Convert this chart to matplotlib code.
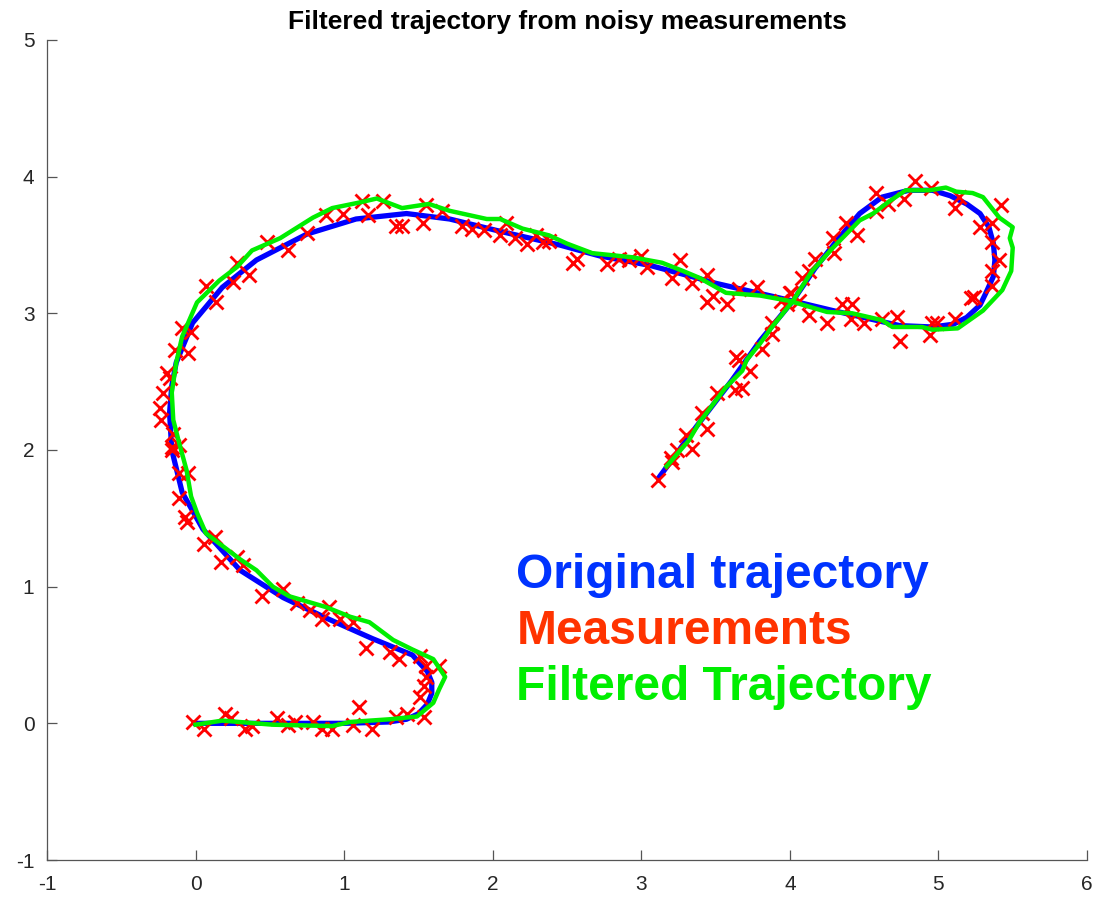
import numpy as np
import matplotlib
matplotlib.use("Agg")
import matplotlib.pyplot as plt

plt.rcParams['font.family'] = ['Liberation Sans', 'DejaVu Sans']
plt.rcParams['axes.unicode_minus'] = False

# Original (true) trajectory
orig_x = [0.0, 0.5, 1.0, 1.3, 1.42, 1.50, 1.56, 1.59, 1.59, 1.56, 1.50, 1.46, 1.19, 0.88, 0.59,
          0.30, 0.05, -0.09, -0.16, -0.175, -0.16, -0.13, -0.02, 0.18, 0.41, 0.75, 1.08, 1.42,
          1.71, 2.05, 2.45, 2.72, 3.06, 3.37, 3.5, 4.02, 4.29, 4.74, 4.96, 5.10, 5.19, 5.28,
          5.32, 5.37, 5.38, 5.37, 5.34, 5.28, 5.19, 5.08, 4.96, 4.80, 4.62, 4.47, 4.33, 4.17,
          4.02, 3.80, 3.61, 3.37, 3.12]
orig_y = [0.0, 0.0, 0.0, 0.01, 0.03, 0.07, 0.14, 0.22, 0.30, 0.38, 0.45, 0.50, 0.62, 0.77, 0.92,
          1.12, 1.42, 1.69, 2.0, 2.27, 2.47, 2.64, 2.93, 3.19, 3.39, 3.58, 3.69, 3.73,
          3.69, 3.60, 3.50, 3.42, 3.35, 3.26, 3.22, 3.09, 3.02, 2.91, 2.90, 2.92, 2.97, 3.06,
          3.15, 3.27, 3.39, 3.51, 3.63, 3.73, 3.80, 3.86, 3.90, 3.90, 3.85, 3.73, 3.55, 3.33,
          3.09, 2.80, 2.51, 2.17, 1.80]

# Noisy measurements
meas_x = [-0.02, 0.06, 0.20, 0.24, 0.33, 0.38, 0.55, 0.62, 0.67, 0.79, 0.85, 0.92, 1.06, 1.10,
          1.19, 1.35, 1.42, 1.51, 1.54, 1.54, 1.55, 1.55, 1.64, 1.51, 1.37, 1.31, 1.15, 1.06,
          0.97, 0.90, 0.85, 0.77, 0.68, 0.59, 0.45, 0.32, 0.28, 0.17, 0.13, 0.06, -0.06, -0.07,
          -0.11, -0.05, -0.11, -0.16,
          -0.11, -0.16, -0.15, -0.23, -0.24, -0.22, -0.17, -0.19, -0.14, -0.05, -0.09, -0.03,
          0.07, 0.14, 0.25, 0.28, 0.36, 0.48, 0.62, 0.75, 0.88, 0.99, 1.12, 1.16, 1.26, 1.35,
          1.39, 1.53, 1.55,
          1.66, 1.79, 1.86, 1.94, 2.05, 2.09, 2.15, 2.23, 2.29, 2.34, 2.38, 2.54, 2.57, 2.77,
          2.85, 2.92, 3.00, 3.04, 3.21, 3.26, 3.34,
          3.44, 3.44, 3.48, 3.58, 3.66, 3.78, 3.88, 3.94, 4.01, 4.06, 4.13, 4.25, 4.35, 4.42,
          4.41, 4.50, 4.62, 4.72, 4.74, 4.94, 4.96, 4.99, 5.11, 5.22, 5.24, 5.36, 5.36, 5.41,
          5.36, 5.28, 5.36, 5.42, 5.11, 5.14, 4.95, 4.84, 4.77, 4.66, 4.58, 4.58, 4.45, 4.38,
          4.29, 4.30, 4.17, 4.13, 4.08, 4.00, 3.98, 3.88, 3.81, 3.73, 3.66, 3.64,
          3.68, 3.63, 3.51, 3.44, 3.41, 3.30, 3.34, 3.24, 3.20, 3.21, 3.11]
meas_y = [0.01, -0.04, 0.07, 0.04, -0.04, -0.02, 0.04, -0.01, 0.01, 0.01, -0.04, -0.04, -0.01, 0.12,
          -0.04, 0.05, 0.07, 0.19, 0.27, 0.05, 0.34, 0.42, 0.42, 0.49, 0.47, 0.52, 0.55, 0.74,
          0.76, 0.85, 0.76, 0.83, 0.88, 0.98, 0.93, 1.16, 1.22, 1.18, 1.36, 1.31, 1.47, 1.51,
          1.65, 1.83, 1.83, 2.0,
          2.04, 2.02, 2.12, 2.22, 2.31, 2.42, 2.53, 2.56, 2.73, 2.71, 2.89, 2.86,
          3.20, 3.08, 3.23, 3.37, 3.28, 3.52, 3.46, 3.59, 3.72, 3.73, 3.82, 3.72, 3.82, 3.64,
          3.64, 3.66, 3.79,
          3.75, 3.64, 3.62, 3.61, 3.57, 3.66, 3.55, 3.51, 3.57, 3.52, 3.53, 3.37, 3.40, 3.36,
          3.40, 3.39, 3.42, 3.34, 3.26, 3.39, 3.22,
          3.28, 3.08, 3.13, 3.07, 3.18, 3.19, 2.93, 3.09, 3.15, 3.09, 2.99, 2.93, 3.07, 3.07,
          2.96, 2.93, 2.96, 2.97, 2.80, 2.84, 2.93, 2.93, 2.96, 3.11, 3.12, 3.20, 3.31, 3.39,
          3.52, 3.63, 3.66, 3.79, 3.77, 3.85, 3.92, 3.97, 3.84, 3.80, 3.88, 3.75, 3.57, 3.66,
          3.55, 3.44, 3.40, 3.31, 3.26, 3.15, 3.07, 2.85, 2.74, 2.58, 2.66, 2.68,
          2.45, 2.44, 2.42, 2.15, 2.27, 2.11, 2.01, 2.00, 1.94, 1.91, 1.78]

# Filtered trajectory
filt_x = [0.0, 0.18, 0.52, 0.92, 1.04, 1.31, 1.49, 1.60, 1.64, 1.68, 1.60, 1.46, 1.33, 1.17,
          1.04, 0.88, 0.63, 0.52, 0.41, 0.30, 0.07, 0.01, -0.03, -0.06, -0.11, -0.15, -0.16,
          -0.13, -0.09, 0.01, 0.16, 0.28, 0.38, 0.57, 0.79, 0.92, 1.10, 1.22, 1.39, 1.57, 1.71,
          1.96, 2.05, 2.20, 2.38, 2.50, 2.67, 2.94, 3.14, 3.28, 3.39, 3.57, 3.80, 4.0, 4.25,
          4.42, 4.62, 4.69, 4.89, 4.96, 5.13, 5.30, 5.43, 5.49, 5.50, 5.48, 5.50, 5.41, 5.30,
          5.23, 5.12, 5.05, 4.94, 4.78, 4.67, 4.56, 4.47, 4.38, 4.29, 4.15, 4.02, 3.88, 3.80,
          3.71, 3.68, 3.57, 3.39, 3.32, 3.17]
filt_y = [-0.01, 0.02, -0.01, -0.02, 0.01, 0.03, 0.05, 0.15, 0.25, 0.34, 0.47, 0.54, 0.61, 0.74,
          0.78, 0.85, 0.93, 1.0, 1.12, 1.2, 1.39, 1.54, 1.66, 1.85, 2.05, 2.22, 2.42,
          2.64, 2.83, 3.08, 3.24, 3.34, 3.46, 3.55, 3.70, 3.77, 3.81, 3.84, 3.77, 3.80, 3.75,
          3.69, 3.69, 3.62, 3.57, 3.51, 3.44, 3.41, 3.37, 3.31, 3.26, 3.15, 3.13, 3.09, 3.01,
          3.0, 2.95, 2.90, 2.90, 2.88, 2.89, 3.02, 3.17, 3.31, 3.48, 3.55, 3.63, 3.70, 3.85,
          3.88, 3.89, 3.92, 3.90, 3.90, 3.82, 3.73, 3.68, 3.58, 3.48, 3.31, 3.09, 2.90, 2.78,
          2.66, 2.58, 2.46, 2.20, 2.07, 1.88]

labels = ["Original trajectory", "Measurements", "Filtered Trajectory"]
label_colors = ["#0033ff", "#ff3300", "#00ee00"]
label_y = [1.08, 0.67, 0.26]

fig = plt.figure(figsize=(10.95, 8.98), dpi=100)
ax = fig.add_axes([0.0429, 0.0423, 0.9498, 0.9132])

ax.plot(orig_x, orig_y, color="#0000ff", lw=3.8, solid_joinstyle="round", zorder=2)
ax.plot(meas_x, meas_y, "x", color="#ff0000", ms=9.5, mew=2.0, zorder=3)
ax.plot(filt_x, filt_y, color="#00ee00", lw=3.2, solid_joinstyle="round", zorder=4)

for lab, c, yy in zip(labels, label_colors, label_y):
    ax.text(2.16, yy, lab, color=c, fontsize=34.5, fontweight="bold", va="center", ha="left")

ax.set_xlim(-1, 6)
ax.set_ylim(-1, 5)
ax.set_xticks(range(-1, 7))
ax.set_yticks(range(-1, 6))
for s in ["top", "right"]:
    ax.spines[s].set_visible(False)
for s in ["left", "bottom"]:
    ax.spines[s].set_color("#555555")
    ax.spines[s].set_linewidth(0.9)
ax.tick_params(direction="in", length=7, width=0.9, color="#555555", labelcolor="#262626",
               labelsize=15)
ax.tick_params(axis="x", pad=11)
ax.tick_params(axis="y", pad=9)
ax.set_title("Filtered trajectory from noisy measurements", fontsize=19, fontweight="bold", pad=8)

fig.savefig("out.png", dpi=100)
